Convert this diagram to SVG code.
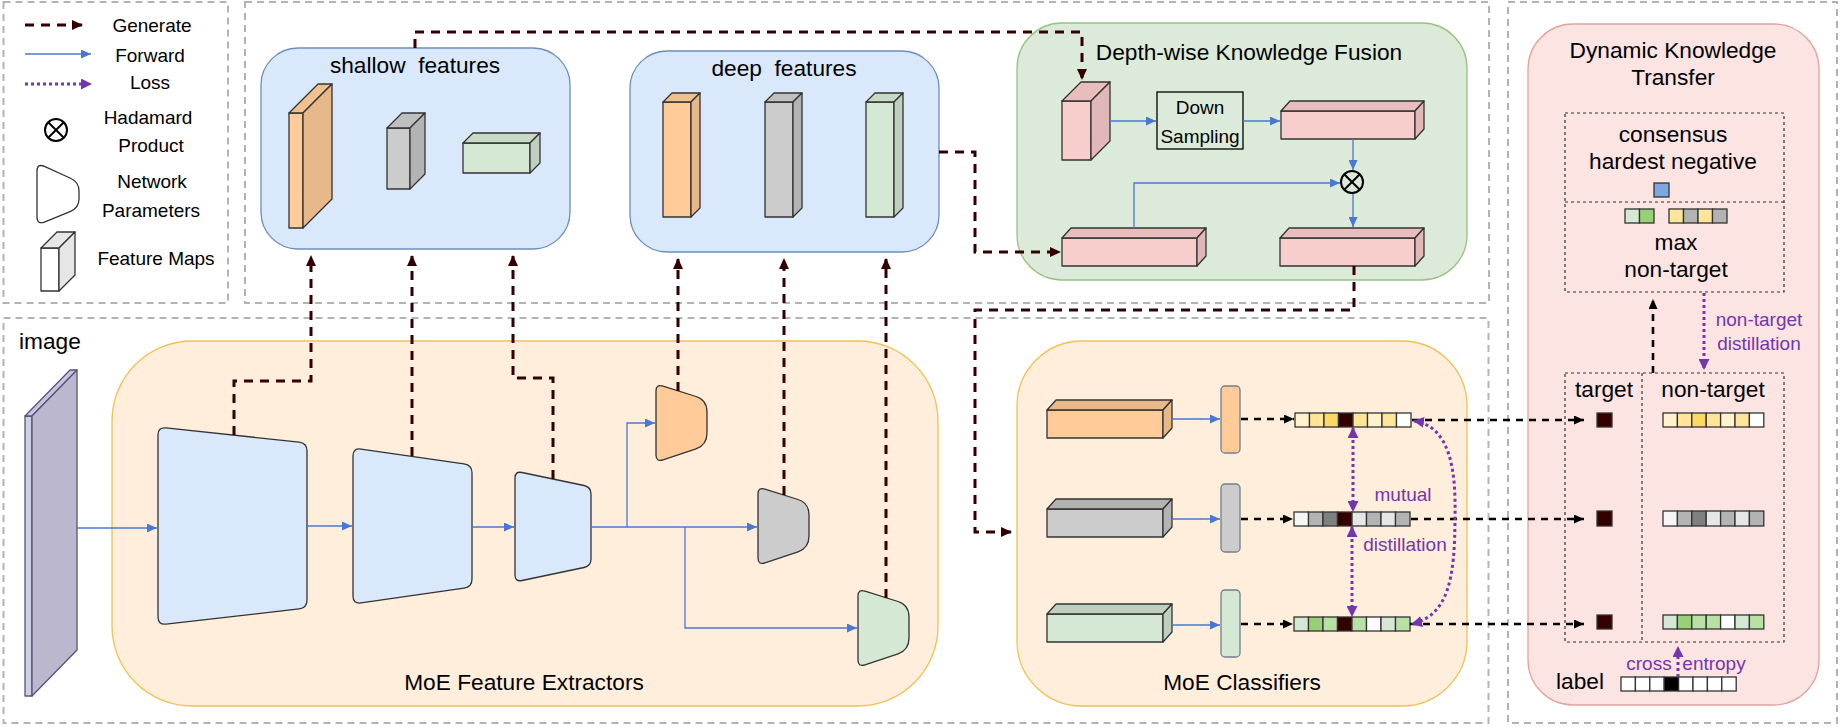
<svg xmlns="http://www.w3.org/2000/svg" width="1840" height="727" viewBox="0 0 1840 727">
<defs>
<style>
text{font-family:"Liberation Sans",Arial,sans-serif;fill:#000}
.t23{font-size:22.7px}
.t19{font-size:19px}
.mid{text-anchor:middle}
.pur{fill:#7535ad}
.sec{fill:none;stroke:#b3b3b3;stroke-width:2;stroke-dasharray:7 5}
.box{stroke-width:1.3}
.cube{stroke:#333;stroke-width:1.3;stroke-linejoin:round}
.trap{stroke:#333;stroke-width:1.3}
.gen{fill:none;stroke:#330000;stroke-width:3;stroke-dasharray:9 7;marker-end:url(#mGen)}
.fwd{fill:none;stroke:#4a78d0;stroke-width:1.3;marker-end:url(#mFwd)}
.blk{fill:none;stroke:#000;stroke-width:2.6;stroke-dasharray:7 6;marker-end:url(#mBlk)}
.loss{fill:none;stroke:#7535ad;stroke-width:3;stroke-dasharray:3 3;marker-end:url(#mLoss)}
.loss2{fill:none;stroke:#7535ad;stroke-width:3;stroke-dasharray:3 3;marker-end:url(#mLoss);marker-start:url(#mLoss)}
.dot{fill:none;stroke:#333;stroke-width:1.2;stroke-dasharray:3 3}
.cell{stroke:#333;stroke-width:1.3}
.had{fill:none;stroke:#000;stroke-width:2}
</style>
<marker id="mGen" markerUnits="userSpaceOnUse" markerWidth="12" markerHeight="10" refX="10" refY="5" orient="auto"><path d="M0,0 L11,5 L0,10 z" fill="#330000"/></marker>
<marker id="mFwd" markerUnits="userSpaceOnUse" markerWidth="11" markerHeight="9" refX="10" refY="4.5" orient="auto"><path d="M0,0 L10,4.5 L0,9 z" fill="#4a78d0"/></marker>
<marker id="mBlk" markerUnits="userSpaceOnUse" markerWidth="11" markerHeight="9" refX="10" refY="4.5" orient="auto"><path d="M0,0 L10,4.5 L0,9 z" fill="#000"/></marker>
<marker id="mLoss" markerUnits="userSpaceOnUse" markerWidth="12" markerHeight="11" refX="10" refY="5.5" orient="auto-start-reverse"><path d="M0,0 L11,5.5 L0,11 z" fill="#7535ad"/></marker>
<path id="smallTrap" d="M0,7 Q0,0 7,2.2 L40,12.5 Q51,16 51,28 L51,49 Q51,61 40,64.8 L7,75.8 Q0,78 0,71 Z"/>
</defs>

<!-- section frames -->
<g id="sections">
<rect class="sec" x="3.5" y="2" width="224.5" height="301"/>
<rect class="sec" x="245" y="2" width="1244" height="301"/>
<rect class="sec" x="3.5" y="318" width="1485" height="405"/>
<rect class="sec" x="1508" y="2" width="329" height="721"/>
</g>

<!-- legend -->
<g id="legend">
<path d="M25,25 L82,25" fill="none" stroke="#330000" stroke-width="3" stroke-dasharray="9 7" marker-end="url(#mGen)"/>
<text class="t19 mid" x="152" y="32">Generate</text>
<path class="fwd" d="M25,54 L91,54"/>
<text class="t19 mid" x="150" y="62">Forward</text>
<path class="loss" d="M25,84 L91,84"/>
<text class="t19 mid" x="150" y="89">Loss</text>
<g><circle class="had" cx="56" cy="130" r="11"/><path class="had" d="M48.2,122.2 L63.8,137.8 M63.8,122.2 L48.2,137.8"/></g>
<text class="t19 mid" x="148" y="124">Hadamard</text>
<text class="t19 mid" x="151" y="152">Product</text>
<path class="trap" fill="#fff" d="M37,171 Q37,163 45,166.6 L70,178 Q79,182 79,191 L79,199 Q79,208 70,211.6 L45,221.8 Q37,225 37,217 Z"/>
<text class="t19 mid" x="152" y="188">Network</text>
<text class="t19 mid" x="151" y="217">Parameters</text>
<g class="cube"><rect x="41" y="248" width="18" height="43" fill="#fff"/><polygon points="41,248 59,248 75,232 57,232" fill="#e6e6e6"/><polygon points="59,248 75,232 75,275 59,291" fill="#e6e6e6"/></g>
<text class="t19 mid" x="156" y="265">Feature Maps</text>
</g>

<!-- shallow features -->
<g id="shallow-features">
<rect class="box" x="261" y="48" width="309" height="201" rx="37" fill="#dae8fc" stroke="#6c8ebf"/>
<text class="t23 mid" x="415" y="73" xml:space="preserve">shallow  features</text>
<g class="cube"><rect x="289" y="113" width="14" height="115" fill="#ffcc99"/><polygon points="289,113 303,113 332,84 318,84" fill="#f0c08f"/><polygon points="303,113 332,84 332,199 303,228" fill="#e6b88a"/></g>
<g class="cube"><rect x="387" y="128" width="23" height="61" fill="#cccccc"/><polygon points="387,128 410,128 425,113 402,113" fill="#bfbfbf"/><polygon points="410,128 425,113 425,174 410,189" fill="#b3b3b3"/></g>
<g class="cube"><rect x="463" y="143" width="67" height="30" fill="#d5e8d4"/><polygon points="463,143 530,143 540,133 473,133" fill="#c6dac5"/><polygon points="530,143 540,133 540,163 530,173" fill="#bfd1be"/></g>
</g>

<!-- deep features -->
<g id="deep-features">
<rect class="box" x="630" y="51" width="309" height="201" rx="37" fill="#dae8fc" stroke="#6c8ebf"/>
<text class="t23 mid" x="784" y="76" xml:space="preserve">deep  features</text>
<g class="cube"><rect x="663" y="102" width="28" height="115" fill="#ffcc99"/><polygon points="663,102 691,102 700,93 672,93" fill="#f0c08f"/><polygon points="691,102 700,93 700,208 691,217" fill="#e6b88a"/></g>
<g class="cube"><rect x="765" y="102" width="28" height="115" fill="#cccccc"/><polygon points="765,102 793,102 802,93 774,93" fill="#bfbfbf"/><polygon points="793,102 802,93 802,208 793,217" fill="#b3b3b3"/></g>
<g class="cube"><rect x="866" y="102" width="28" height="115" fill="#d5e8d4"/><polygon points="866,102 894,102 903,93 875,93" fill="#c6dac5"/><polygon points="894,102 903,93 903,208 894,217" fill="#bfd1be"/></g>
</g>

<!-- depth-wise knowledge fusion -->
<g id="dkf">
<rect class="box" x="1017" y="23" width="450" height="257" rx="45" fill="#dcebd9" stroke="#97c27f"/>
<text class="t23 mid" x="1249" y="60">Depth-wise Knowledge Fusion</text>
<g class="cube"><rect x="1062" y="101" width="29" height="59" fill="#f8cecc"/><polygon points="1062,101 1091,101 1110,82 1081,82" fill="#e8bdbc"/><polygon points="1091,101 1110,82 1110,141 1091,160" fill="#dfb8b7"/></g>
<rect x="1157" y="92" width="86" height="57" fill="none" stroke="#000" stroke-width="1.3"/>
<text class="t19 mid" x="1200" y="114">Down</text>
<text class="t19 mid" x="1200" y="143">Sampling</text>
<g class="cube"><rect x="1281" y="111" width="134" height="28" fill="#f8cecc"/><polygon points="1281,111 1415,111 1424,101 1290,101" fill="#e8bdbc"/><polygon points="1415,111 1424,101 1424,129 1415,139" fill="#dfb8b7"/></g>
<g><circle class="had" cx="1352" cy="182" r="11"/><path class="had" d="M1344.2,174.2 L1359.8,189.8 M1359.8,174.2 L1344.2,189.8"/></g>
<g class="cube"><rect x="1062" y="238" width="135" height="28" fill="#f8cecc"/><polygon points="1062,238 1197,238 1206,228 1071,228" fill="#e8bdbc"/><polygon points="1197,238 1206,228 1206,256 1197,266" fill="#dfb8b7"/></g>
<g class="cube"><rect x="1280" y="238" width="135" height="28" fill="#f8cecc"/><polygon points="1280,238 1415,238 1424,228 1289,228" fill="#e8bdbc"/><polygon points="1415,238 1424,228 1424,256 1415,266" fill="#dfb8b7"/></g>
</g>

<!-- image -->
<g id="image">
<text class="t23" x="19" y="349">image</text>
<g stroke="#56517e" stroke-width="1.3" stroke-linejoin="round"><rect x="25" y="416" width="7" height="280" fill="#d0cee2"/><polygon points="25,416 32,416 77,370 70,370" fill="#c8c5dc"/><polygon points="32,416 77,370 77,650 32,696" fill="#bbb7cc"/></g>
</g>

<!-- MoE feature extractors -->
<g id="moe-feature-extractors">
<rect class="box" x="112" y="341" width="826" height="365" rx="80" fill="#ffeedb" stroke="#f0c154"/>
<text class="t23 mid" x="524" y="690">MoE Feature Extractors</text>
<path class="trap" fill="#dae8fc" d="M158,435 Q158,427 166,427.9 L299,442.1 Q307,443 307,451 L307,600 Q307,608 299,608.9 L166,624.1 Q158,625 158,617 Z"/>
<path class="trap" fill="#dae8fc" d="M353,456 Q353,448 361,449.1 L464,463.9 Q472,465 472,473 L472,579 Q472,587 464,588.1 L361,602.9 Q353,604 353,596 Z"/>
<path class="trap" fill="#dae8fc" d="M515,478 Q515,471 522,472.5 L584,485.5 Q591,487 591,494 L591,559 Q591,566 584,567.5 L522,580.5 Q515,582 515,575 Z"/>
<use href="#smallTrap" class="trap" fill="#ffcc99" transform="translate(656,384)"/>
<use href="#smallTrap" class="trap" fill="#cccccc" transform="translate(758,487)"/>
<use href="#smallTrap" class="trap" fill="#d5e8d4" transform="translate(858,589)"/>
</g>

<!-- MoE classifiers -->
<g id="moe-classifiers">
<rect class="box" x="1017" y="341" width="450" height="365" rx="65" fill="#ffeedb" stroke="#f0c154"/>
<text class="t23 mid" x="1242" y="690">MoE Classifiers</text>
<g class="cube"><rect x="1047" y="410" width="116" height="28" fill="#ffcc99"/><polygon points="1047,410 1163,410 1172,400 1056,400" fill="#e6b88a"/><polygon points="1163,410 1172,400 1172,428 1163,438" fill="#e6b88a"/></g>
<g class="cube"><rect x="1047" y="509" width="116" height="28" fill="#cccccc"/><polygon points="1047,509 1163,509 1172,499 1056,499" fill="#b3b3b3"/><polygon points="1163,509 1172,499 1172,527 1163,537" fill="#b3b3b3"/></g>
<g class="cube"><rect x="1047" y="614" width="116" height="28" fill="#d5e8d4"/><polygon points="1047,614 1163,614 1172,604 1056,604" fill="#bfd1be"/><polygon points="1163,614 1172,604 1172,632 1163,642" fill="#bfd1be"/></g>
<rect x="1221" y="386" width="19" height="67" rx="4" fill="#ffcc99" stroke="#708090" stroke-width="1.3"/>
<rect x="1221" y="484" width="19" height="68" rx="4" fill="#cccccc" stroke="#708090" stroke-width="1.3"/>
<rect x="1221" y="590" width="19" height="67" rx="4" fill="#d5e8d4" stroke="#708090" stroke-width="1.3"/>
<g class="cell">
<rect x="1295" y="413" width="14.5" height="14" fill="#fff2cc"/><rect x="1309.5" y="413" width="14.5" height="14" fill="#ffe599"/><rect x="1324" y="413" width="14.5" height="14" fill="#ffd966"/><rect x="1338.5" y="413" width="14.5" height="14" fill="#330000"/><rect x="1353" y="413" width="14.5" height="14" fill="#ffe599"/><rect x="1367.5" y="413" width="14.5" height="14" fill="#fff2cc"/><rect x="1382" y="413" width="14.5" height="14" fill="#ffe599"/><rect x="1396.5" y="413" width="14.5" height="14" fill="#ffffff"/>
<rect x="1294" y="512" width="14.5" height="14" fill="#f5f5f5"/><rect x="1308.5" y="512" width="14.5" height="14" fill="#b3b3b3"/><rect x="1323" y="512" width="14.5" height="14" fill="#808080"/><rect x="1337.5" y="512" width="14.5" height="14" fill="#330000"/><rect x="1352" y="512" width="14.5" height="14" fill="#e6e6e6"/><rect x="1366.5" y="512" width="14.5" height="14" fill="#b3b3b3"/><rect x="1381" y="512" width="14.5" height="14" fill="#e6e6e6"/><rect x="1395.5" y="512" width="14.5" height="14" fill="#b3b3b3"/>
<rect x="1294" y="617" width="14.5" height="14" fill="#d5e8d4"/><rect x="1308.5" y="617" width="14.5" height="14" fill="#97d077"/><rect x="1323" y="617" width="14.5" height="14" fill="#b9e0a5"/><rect x="1337.5" y="617" width="14.5" height="14" fill="#330000"/><rect x="1352" y="617" width="14.5" height="14" fill="#b9e0a5"/><rect x="1366.5" y="617" width="14.5" height="14" fill="#ffffff"/><rect x="1381" y="617" width="14.5" height="14" fill="#d5e8d4"/><rect x="1395.5" y="617" width="14.5" height="14" fill="#b9e0a5"/>
</g>
<text class="t19 mid pur" x="1403" y="501">mutual</text>
<text class="t19 mid pur" x="1405" y="551">distillation</text>
</g>

<!-- dynamic knowledge transfer -->
<g id="dkt">
<rect class="box" x="1528" y="24" width="291" height="681" rx="45" fill="#fbe4e2" stroke="#e2a39e"/>
<text class="t23 mid" x="1673" y="58">Dynamic Knowledge</text>
<text class="t23 mid" x="1673" y="85">Transfer</text>
<rect class="dot" x="1565" y="113" width="219" height="179"/>
<path class="dot" d="M1565,202 L1784,202"/>
<text class="t23 mid" x="1673" y="142">consensus</text>
<text class="t23 mid" x="1673" y="169">hardest negative</text>
<rect x="1654" y="183" width="15" height="14" fill="#7ea6e0" stroke="#333" stroke-width="1.3"/>
<g class="cell">
<rect x="1625" y="209" width="14.5" height="14" fill="#d5e8d4"/><rect x="1639.5" y="209" width="14.5" height="14" fill="#97d077"/>
<rect x="1669" y="209" width="14.5" height="14" fill="#ffe599"/><rect x="1683.5" y="209" width="14.5" height="14" fill="#b3b3b3"/><rect x="1698" y="209" width="14.5" height="14" fill="#ffe599"/><rect x="1712.5" y="209" width="14.5" height="14" fill="#b3b3b3"/>
</g>
<text class="t23 mid" x="1676" y="250">max</text>
<text class="t23 mid" x="1676" y="277">non-target</text>
<text class="t19 mid pur" x="1759" y="326">non-target</text>
<text class="t19 mid pur" x="1759" y="350">distillation</text>
<rect class="dot" x="1565" y="373" width="219" height="269"/>
<path class="dot" d="M1642,373 L1642,642"/>
<text class="t23 mid" x="1604" y="397">target</text>
<text class="t23 mid" x="1713" y="397">non-target</text>
<g class="cell">
<rect x="1597" y="413" width="15" height="14" fill="#330000"/>
<rect x="1597" y="511" width="15" height="15" fill="#330000"/>
<rect x="1597" y="615" width="15" height="14" fill="#330000"/>
<rect x="1663" y="413" width="14.4" height="14" fill="#fff2cc"/><rect x="1677.4" y="413" width="14.4" height="14" fill="#ffe599"/><rect x="1691.8" y="413" width="14.4" height="14" fill="#ffd966"/><rect x="1706.2" y="413" width="14.4" height="14" fill="#ffe599"/><rect x="1720.6" y="413" width="14.4" height="14" fill="#fff2cc"/><rect x="1735" y="413" width="14.4" height="14" fill="#ffe599"/><rect x="1749.4" y="413" width="14.4" height="14" fill="#ffffff"/>
<rect x="1663" y="511" width="14.4" height="15" fill="#f5f5f5"/><rect x="1677.4" y="511" width="14.4" height="15" fill="#b3b3b3"/><rect x="1691.8" y="511" width="14.4" height="15" fill="#808080"/><rect x="1706.2" y="511" width="14.4" height="15" fill="#e6e6e6"/><rect x="1720.6" y="511" width="14.4" height="15" fill="#b3b3b3"/><rect x="1735" y="511" width="14.4" height="15" fill="#e6e6e6"/><rect x="1749.4" y="511" width="14.4" height="15" fill="#b3b3b3"/>
<rect x="1663" y="615" width="14.4" height="14" fill="#d5e8d4"/><rect x="1677.4" y="615" width="14.4" height="14" fill="#97d077"/><rect x="1691.8" y="615" width="14.4" height="14" fill="#b9e0a5"/><rect x="1706.2" y="615" width="14.4" height="14" fill="#b9e0a5"/><rect x="1720.6" y="615" width="14.4" height="14" fill="#ffffff"/><rect x="1735" y="615" width="14.4" height="14" fill="#d5e8d4"/><rect x="1749.4" y="615" width="14.4" height="14" fill="#b9e0a5"/>
</g>
<text class="t19 mid pur" x="1649" y="670">cross</text>
<text class="t19 mid pur" x="1714" y="670">entropy</text>
<text class="t23 mid" x="1580" y="689">label</text>
<g class="cell">
<rect x="1621" y="677" width="14.4" height="14" fill="#fff"/><rect x="1635.4" y="677" width="14.4" height="14" fill="#fff"/><rect x="1649.8" y="677" width="14.4" height="14" fill="#fff"/><rect x="1664.2" y="677" width="14.4" height="14" fill="#000"/><rect x="1678.6" y="677" width="14.4" height="14" fill="#fff"/><rect x="1693" y="677" width="14.4" height="14" fill="#fff"/><rect x="1707.4" y="677" width="14.4" height="14" fill="#fff"/><rect x="1721.8" y="677" width="14.4" height="14" fill="#fff"/>
</g>
</g>

<!-- connectors -->
<g id="connectors">
<path class="gen" d="M415,48 L415,32 L1082,32 L1082,79"/>
<path class="gen" d="M939,152 L975,152 L975,252 L1060,252"/>
<path class="gen" d="M1354,266 L1354,310 L975,310 L975,532 L1011,532"/>
<path class="gen" d="M234,435 L234,381 L311,381 L311,256"/>
<path class="gen" d="M412,456 L412,256"/>
<path class="gen" d="M553,479 L553,378 L513,378 L513,256"/>
<path class="gen" d="M678,391 L678,259"/>
<path class="gen" d="M784,495 L784,259"/>
<path class="gen" d="M886,598 L886,259"/>
<path class="fwd" d="M77,528 L157,528"/>
<path class="fwd" d="M307,526 L352,526"/>
<path class="fwd" d="M472,527 L514,527"/>
<path class="fwd" d="M591,527 L627,527 L627,423 L655,423"/>
<path class="fwd" d="M627,527 L757,527"/>
<path class="fwd" d="M685,527 L685,628 L857,628"/>
<path class="fwd" d="M1110,121 L1156,121"/>
<path class="fwd" d="M1243,121 L1280,121"/>
<path class="fwd" d="M1353,139 L1353,170"/>
<path class="fwd" d="M1134,228 L1134,183 L1340,183"/>
<path class="fwd" d="M1353,194 L1353,227"/>
<path class="fwd" d="M1172,419 L1220,419"/>
<path class="fwd" d="M1172,519 L1220,519"/>
<path class="fwd" d="M1172,625 L1220,625"/>
<path class="blk" d="M1241,419 L1294,419"/>
<path class="blk" d="M1241,519 L1293,519"/>
<path class="blk" d="M1241,624 L1293,624"/>
<path class="blk" d="M1412,420 L1584,420"/>
<path class="blk" d="M1411,519 L1584,519"/>
<path class="blk" d="M1410,624 L1584,624"/>
<path class="blk" d="M1653,373 L1653,299"/>
<path class="loss" d="M1704,293 L1704,369"/>
<path class="loss" d="M1678,677 L1678,647"/>
<path class="loss2" d="M1353,428 L1353,511"/>
<path class="loss2" d="M1352,527 L1352,616"/>
<path class="loss2" d="M1414,421 C1450,426 1456,470 1455,516 C1455,580 1448,615 1412,624"/>
</g>
</svg>
